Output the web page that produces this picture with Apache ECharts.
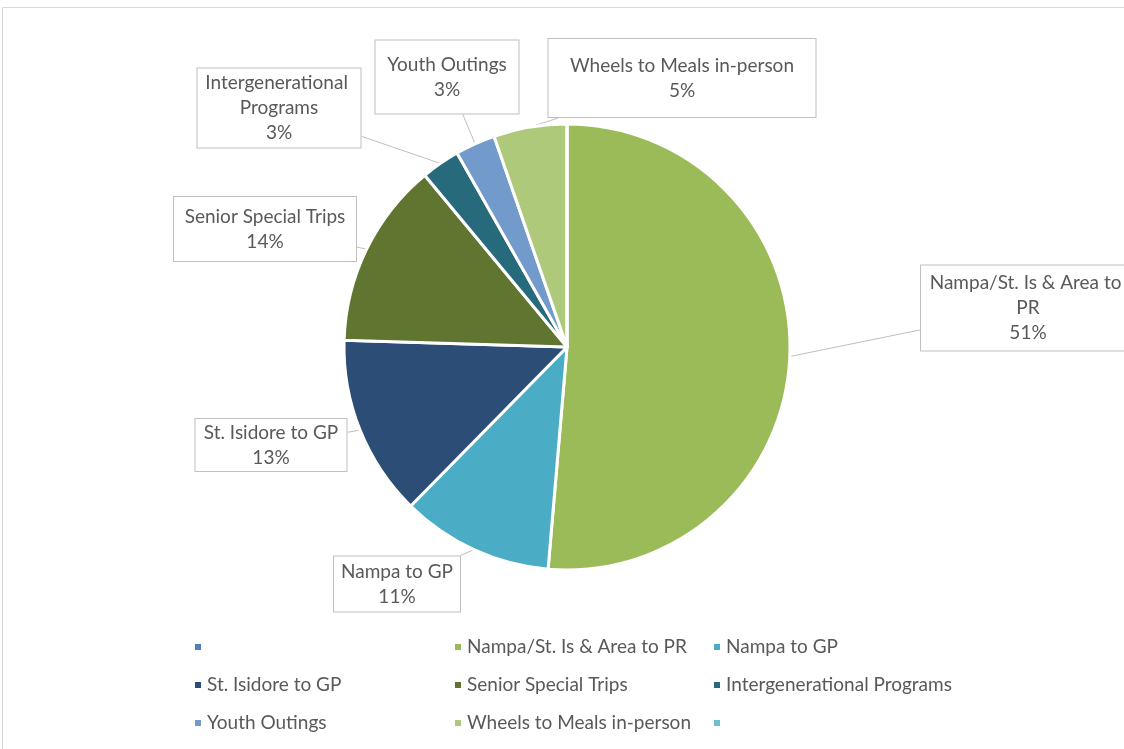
<!DOCTYPE html>
<html>
<head>
<meta charset="utf-8">
<script src="https://cdn.jsdelivr.net/npm/echarts@6/dist/echarts.min.js"></script>
<style>
  html, body { margin: 0; padding: 0; background: #fff; }
  #chart { width: 1124px; height: 749px; }
</style>
</head>
<body>
<div id="chart"></div>
<script>
// categories in sheet order (first and last are blank rows of the sheet)
const categories = [' ', 'Nampa/St. Is & Area to PR', 'Nampa to GP', 'St. Isidore to GP',
  'Senior Special Trips', 'Intergenerational Programs', 'Youth Outings',
  'Wheels to Meals in-person', '  '];
const shares = [0, 51.3, 11.0, 13.1, 13.5, 2.8, 2.9, 5.3, 0];
const colors = ['#4F81BD', '#9BBB59', '#4BACC6', '#2C4D75', '#5F7530', '#276A7C',
  '#729ACA', '#AFC97A', '#6FBDD1'];

// callout boxes: centre, outer size, number of text lines
const callouts = [
  null,
  { x: 1028, y: 308, w: 216, h: 87, lines: 3 },
  { x: 397, y: 584, w: 128, h: 57, lines: 2 },
  { x: 271, y: 445, w: 153, h: 54, lines: 2 },
  { x: 265, y: 229, w: 184, h: 66, lines: 2 },
  { x: 279, y: 108, w: 165, h: 81, lines: 3 },
  { x: 447, y: 77, w: 145, h: 75, lines: 2 },
  { x: 682, y: 78, w: 269, h: 80, lines: 2 },
  null
];

const LINE_H = 25;
const FONT = 'Lato, "Open Sans", sans-serif';
const FONT_SIZE = 19;

const chart = echarts.init(document.getElementById('chart'), null, { renderer: 'canvas' });

const pieData = categories.map((name, i) => {
  const c = callouts[i];
  const item = { name: name, value: shares[i], itemStyle: { color: colors[i] } };
  if (!c) {
    item.label = { show: false };
    item.labelLine = { show: false };
  } else {
    const padH = 4;
    const padV = Math.max(0, (c.h - 2 - c.lines * LINE_H) / 2);
    // text sits a little low in the excel callouts
    const shift = Math.min(2, padV);
    item.label = { width: c.w - 2 - padH * 2, padding: [padV + shift, padH, padV - shift, padH] };
  }
  return item;
});

function legendCol(j) {
  return categories.filter((_, i) => i % 3 === j);
}
const legendLeft = [188, 448, 707];

const option = {
  backgroundColor: '#fff',
  animation: false,
  graphic: [{
    type: 'rect',
    shape: { x: 2.5, y: 7.5, width: 1140, height: 760 },
    style: { fill: 'none', stroke: '#d9d9d9', lineWidth: 1 },
    silent: true
  }],
  legend: [0, 1, 2].map(j => ({
    orient: 'vertical',
    left: legendLeft[j],
    top: 632,
    icon: 'rect',
    itemWidth: 8,
    itemHeight: 8,
    itemGap: 18,
    selectedMode: false,
    data: legendCol(j),
    textStyle: { color: '#595959', fontSize: FONT_SIZE, fontFamily: FONT, lineHeight: 20, padding: [0, 0, 0, 0] }
  })),
  series: [{
    type: 'pie',
    center: [567, 347],
    radius: 223,
    startAngle: 90,
    clockwise: true,
    percentPrecision: 0,
    avoidLabelOverlap: false,
    data: pieData,
    itemStyle: { borderColor: '#fff', borderWidth: 3 },
    emphasis: { disabled: true },
    label: {
      position: 'outside',
      formatter: '{b}\n{d}%',
      color: '#595959',
      fontSize: FONT_SIZE,
      fontFamily: FONT,
      lineHeight: LINE_H,
      align: 'center',
      overflow: 'break',
      backgroundColor: '#fff',
      borderColor: '#bfbfbf',
      borderWidth: 1
    },
    labelLine: {
      show: true,
      length: 10,
      length2: 10,
      lineStyle: { color: '#bfbfbf', width: 1 }
    },
    labelLayout: function (params) {
      const c = callouts[params.dataIndex];
      if (!c || !params.labelLinePoints) return {};
      const p0 = params.labelLinePoints[0];
      const dx = p0[0] - c.x;
      const dy = p0[1] - c.y;
      const t = Math.min(dx ? (c.w / 2) / Math.abs(dx) : Infinity,
                         dy ? (c.h / 2) / Math.abs(dy) : Infinity);
      const p1 = [c.x + dx * t, c.y + dy * t];
      return {
        x: c.x,
        y: c.y,
        align: 'center',
        verticalAlign: 'middle',
        labelLinePoints: [p0, p1, p1]
      };
    }
  }]
};

chart.setOption(option);
</script>
</body>
</html>
